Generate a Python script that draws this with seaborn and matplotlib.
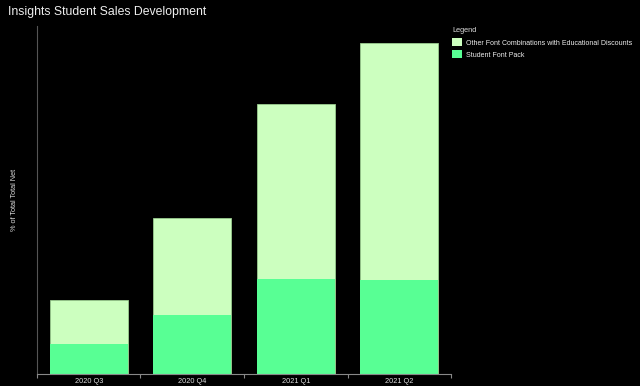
import matplotlib
matplotlib.use("Agg")
import matplotlib.pyplot as plt
import seaborn as sns
import pandas as pd
from matplotlib.patches import Patch

quarters = ["2020 Q3", "2020 Q4", "2021 Q1", "2021 Q2"]
student_font_pack = [29.7, 59.0, 94.4, 93.4]
other_combinations = [44.0, 97.0, 175.6, 237.6]
series_names = ["Other Font Combinations with Educational Discounts", "Student Font Pack"]

light = "#ccffbf"
green = "#58ff94"

sns.set_theme(style="dark")
plt.rcParams["font.family"] = ["Liberation Sans", "DejaVu Sans"]

df = pd.DataFrame({
    "quarter": quarters,
    "pack": student_font_pack,
    "total": [a + b for a, b in zip(student_font_pack, other_combinations)],
})

fig = plt.figure(figsize=(6.4, 3.86), dpi=100, facecolor="black")
ax = fig.add_axes([0.0578, 0.0319, 0.6469, 0.9007])
ax.set_facecolor("black")

sns.barplot(data=df, x="quarter", y="total", color=light, width=0.752,
            saturation=1, ax=ax, edgecolor="#9acc90", linewidth=0.6)
sns.barplot(data=df, x="quarter", y="pack", color=green, width=0.752,
            saturation=1, ax=ax, linewidth=0)

ax.set_xlim(-0.5, 3.5)
ax.set_ylim(0, 347.7)
ax.set_yticks([])
ax.set_xticks([-0.5, 0.5, 1.5, 2.5, 3.5])
ax.set_xticklabels([])
ax.tick_params(axis="x", which="major", length=3, color="#888888", width=0.8, bottom=True)
ax.set_xticks(range(len(quarters)), minor=True)
ax.set_xticklabels(quarters, minor=True)
ax.tick_params(axis="x", which="minor", length=0, labelsize=5.3, labelcolor="#dddddd", pad=3)
ax.grid(False)
for s in ["top", "right"]:
    ax.spines[s].set_visible(False)
ax.spines["left"].set_color("#555555")
ax.spines["bottom"].set_color("#888888")
ax.spines["left"].set_linewidth(0.8)
ax.spines["bottom"].set_linewidth(0.8)
ax.set_xlabel("")
ax.set_ylabel("")

fig.text(15/640, 1 - 200/386, "% of Total Total Net", rotation=90, ha="center", va="center",
         fontsize=5.3, color="#dddddd")
fig.text(8/640, 1 - 12/386, "Insights Student Sales Development", ha="left", va="center",
         fontsize=8.8, color="#eeeeee")

handles = [Patch(facecolor=light, edgecolor="none"), Patch(facecolor=green, edgecolor="none")]
leg = fig.legend(handles, series_names, title="Legend", loc="upper left",
                 bbox_to_anchor=(451/640, 1 - 26/386), frameon=False, fontsize=5.0,
                 title_fontsize=5.3, handlelength=1.4, handleheight=1.4, handletextpad=0.6,
                 labelspacing=0.55, borderaxespad=0, borderpad=0.2)
leg._legend_box.align = "left"
leg.get_title().set_color("#dddddd")
for t in leg.get_texts():
    t.set_color("#eeeeee")

fig.savefig("out.png", dpi=100, facecolor="black")
